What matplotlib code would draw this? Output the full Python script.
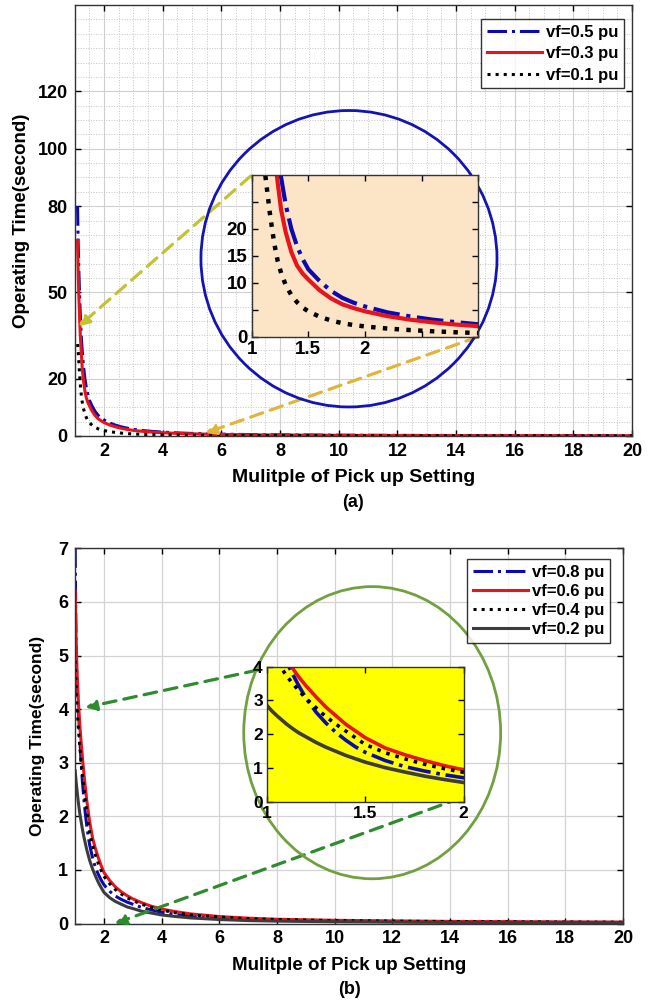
import numpy as np
import matplotlib
matplotlib.use('Agg')
import matplotlib.pyplot as plt
from matplotlib.patches import Ellipse
from matplotlib.ticker import MultipleLocator

plt.rcParams['font.family'] = ['Liberation Sans', 'DejaVu Sans']
plt.rcParams['font.weight'] = 'bold'

# ---- panel (a) data ----
x_a = [1.1, 1.12, 1.14, 1.16, 1.18, 1.2, 1.23, 1.26, 1.3, 1.35, 1.4, 1.45, 1.5,
       1.6, 1.7, 1.8, 1.9, 2.0, 2.2, 2.4, 2.6, 2.8, 3.0, 3.3, 3.6, 4.0, 4.5,
       5, 6, 7, 8, 10, 12, 14, 16, 18, 20]
vf05 = [80, 68, 59, 52, 46, 40.5, 34, 29.5, 24.5, 20.0, 16.8, 14.4, 12.5,
        10.3, 8.5, 7.2, 6.3, 5.6, 4.5, 3.75, 3.15, 2.7, 2.3, 1.92, 1.63, 1.33, 1.07,
        0.88, 0.63, 0.49, 0.39, 0.27, 0.2, 0.16, 0.13, 0.11, 0.095]
vf03 = [68, 58, 50, 44, 38.5, 34, 28.5, 23.5, 19.4, 15.7, 13.2, 11.7, 10.6,
        8.6, 7.1, 6.0, 5.3, 4.7, 3.8, 3.15, 2.65, 2.25, 1.95, 1.62, 1.38, 1.12, 0.9,
        0.74, 0.53, 0.41, 0.33, 0.23, 0.17, 0.13, 0.11, 0.09, 0.08]
vf01 = [32, 30, 26.5, 23, 20, 17.2, 14.0, 11.8, 9.6, 7.7, 6.4, 5.4, 4.7,
        3.7, 3.0, 2.5, 2.15, 1.9, 1.5, 1.22, 1.0, 0.82, 0.68, 0.55, 0.46, 0.38, 0.31,
        0.26, 0.19, 0.15, 0.12, 0.085, 0.065, 0.052, 0.043, 0.037, 0.032]
labels_a = ['vf=0.5 pu', 'vf=0.3 pu', 'vf=0.1 pu']

# ---- panel (b) data ----
x_b = [1.0, 1.01, 1.02, 1.03, 1.05, 1.07, 1.1, 1.13, 1.16, 1.2, 1.25, 1.3, 1.35,
       1.4, 1.45, 1.5, 1.6, 1.7, 1.8, 1.9, 2.0, 2.2, 2.4, 2.6, 2.8, 3.0, 3.3,
       3.6, 4.0, 4.5, 5, 6, 7, 8, 10, 12, 14, 16, 18, 20]
vf08 = [7.0, 6.3, 5.7, 5.25, 4.7, 4.4, 4.12, 3.78, 3.45, 3.05, 2.65, 2.33, 2.06,
        1.83, 1.63, 1.47, 1.23, 1.05, 0.92, 0.81, 0.72, 0.6, 0.51, 0.45, 0.4, 0.36, 0.3,
        0.26, 0.21, 0.17, 0.14, 0.1, 0.075, 0.06, 0.045, 0.037, 0.03, 0.026, 0.023, 0.02]
vf06 = [6.2, 5.9, 5.6, 5.35, 4.95, 4.62, 4.25, 3.95, 3.7, 3.42, 3.1, 2.8, 2.55,
        2.3, 2.1, 1.9, 1.6, 1.4, 1.23, 1.08, 0.95, 0.8, 0.68, 0.59, 0.52, 0.46, 0.39,
        0.33, 0.27, 0.22, 0.18, 0.13, 0.1, 0.08, 0.06, 0.05, 0.04, 0.035, 0.03, 0.027]
vf04 = [4.9, 4.72, 4.55, 4.42, 4.17, 3.98, 3.72, 3.5, 3.3, 3.05, 2.78, 2.52, 2.3,
        2.1, 1.9, 1.7, 1.46, 1.28, 1.12, 0.99, 0.88, 0.74, 0.63, 0.55, 0.48, 0.43, 0.36,
        0.31, 0.25, 0.2, 0.16, 0.12, 0.09, 0.075, 0.055, 0.045, 0.037, 0.032, 0.028, 0.025]
vf02 = [2.85, 2.78, 2.72, 2.66, 2.55, 2.45, 2.3, 2.17, 2.05, 1.92, 1.76, 1.62, 1.5,
        1.38, 1.28, 1.18, 1.02, 0.89, 0.77, 0.67, 0.58, 0.48, 0.41, 0.36, 0.31, 0.28, 0.23,
        0.2, 0.16, 0.13, 0.105, 0.075, 0.055, 0.045, 0.033, 0.026, 0.021, 0.018, 0.016, 0.014]
labels_b = ['vf=0.8 pu', 'vf=0.6 pu', 'vf=0.4 pu', 'vf=0.2 pu']

BLUE = '#0A0AB0'
RED = '#E8141B'
BLACK = '#000000'
GRAY = '#3C3C3C'

fig = plt.figure(figsize=(6.5, 10.02), dpi=100)


def style_axes(ax, size=13, pad=5):
    ax.tick_params(direction='in', top=True, right=True, labelsize=size, width=1,
                   length=4, pad=pad)
    for lab in ax.get_xticklabels() + ax.get_yticklabels():
        lab.set_fontweight('bold')
    for sp in ax.spines.values():
        sp.set_linewidth(1.0)
        sp.set_color('#333333')


def arrow(ax, tail, head, color):
    ax.annotate('', xy=head, xytext=tail, annotation_clip=False,
                arrowprops=dict(arrowstyle='-|>', linestyle=(0, (4, 2.5)), lw=2.3,
                                color=color, mutation_scale=16,
                                shrinkA=0, shrinkB=0))


def make_legend(ax, anchor, size, spacing):
    leg = ax.legend(loc='upper right', bbox_to_anchor=anchor, fontsize=size,
                    handlelength=3.3, frameon=True, fancybox=False,
                    edgecolor='black', borderaxespad=0, borderpad=0.35,
                    labelspacing=spacing, handletextpad=0.25)
    leg.get_frame().set_linewidth(1.0)
    for t in leg.get_texts():
        t.set_fontweight('bold')
    return leg


# ================= panel (a) =================
ax1 = fig.add_axes([0.1148, 0.5649, 0.8577, 0.430])
ax1.plot(x_a, vf05, color=BLUE, ls='-.', lw=2.2, label=labels_a[0])
ax1.plot(x_a, vf03, color=RED, ls='-', lw=2.2, label=labels_a[1])
ax1.plot(x_a, vf01, color=BLACK, ls=':', lw=2.2, label=labels_a[2])
ax1.set_xlim(1, 20)
ax1.set_ylim(0, 150)
ax1.set_xticks(range(2, 21, 2))
ax1.set_yticks([0, 20, 50, 80, 100, 120])
ax1.xaxis.set_minor_locator(MultipleLocator(0.5))
ax1.yaxis.set_minor_locator(MultipleLocator(5))
ax1.grid(True, which='major', color='#CFCFCF', lw=0.8)
ax1.grid(True, which='minor', color='#C4C4C4', ls=':', lw=0.7)
ax1.tick_params(which='minor', length=0)
style_axes(ax1)
ax1.set_xlabel('Mulitple of Pick up Setting', fontsize=14, fontweight='bold')
ax1.xaxis.label.set_va('center')
ax1.xaxis.set_label_coords(0.5, -0.0975)
ax1.set_ylabel('Operating Time(second)', fontsize=13.5, fontweight='bold')
ax1.yaxis.label.set_va('center')
ax1.yaxis.set_label_coords(-0.096, 0.5)
ax1.text(0.5, -0.155, '(a)', transform=ax1.transAxes, ha='center', va='center',
         fontsize=13, fontweight='bold')
make_legend(ax1, (0.9857, 0.9675), 12, 0.38)

ax1.add_patch(Ellipse((10.35, 61.7), 10.09, 103.2, fill=False, edgecolor='#1414B4',
                      lw=2.0, zorder=5))
arrow(ax1, (7.0, 90.5), (1.13, 38.1), '#C2C232')
arrow(ax1, (14.75, 34.5), (5.45, 1.0), '#E3B43A')

ins1 = fig.add_axes([0.3872, 0.664, 0.3486, 0.1614])
ins1.set_facecolor('#FCE4C6')
ins1.plot(x_a, vf05, color=BLUE, ls='-.', lw=3.0)
ins1.plot(x_a, vf03, color=RED, ls='-', lw=3.0)
ins1.plot(x_a, vf01, color=BLACK, ls=':', lw=3.2)
ins1.set_xlim(1, 3)
ins1.set_ylim(0, 30)
ins1.set_xticks([1, 1.5, 2, 2.5, 3])
ins1.set_xticklabels(['1', '1.5', '2', '', ''])
ins1.set_yticks([0, 5, 10, 15, 20, 25])
ins1.set_yticklabels(['0', '', '10', '15', '20', ''])
style_axes(ins1, size=13.5, pad=3)

# ================= panel (b) =================
ax2 = fig.add_axes([0.1157, 0.0783, 0.8428, 0.3745])
ax2.plot(x_b, vf08, color=BLUE, ls='-.', lw=2.2, label=labels_b[0])
ax2.plot(x_b, vf06, color=RED, ls='-', lw=2.2, label=labels_b[1])
ax2.plot(x_b, vf04, color=BLACK, ls=':', lw=2.2, label=labels_b[2])
ax2.plot(x_b, vf02, color=GRAY, ls='-', lw=2.2, label=labels_b[3])
ax2.set_xlim(1, 20)
ax2.set_ylim(0, 7)
ax2.set_xticks(range(2, 21, 2))
ax2.set_yticks(range(0, 8))
ax2.grid(True, which='major', color='#D3D3D3', lw=0.9)
style_axes(ax2)
ax2.set_xlabel('Mulitple of Pick up Setting', fontsize=13.5, fontweight='bold')
ax2.xaxis.label.set_va('center')
ax2.xaxis.set_label_coords(0.5, -0.111)
ax2.set_ylabel('Operating Time(second)', fontsize=12.5, fontweight='bold')
ax2.yaxis.label.set_va('center')
ax2.yaxis.set_label_coords(-0.0697, 0.5)
ax2.text(0.5, -0.177, '(b)', transform=ax2.transAxes, ha='center', va='center',
         fontsize=13, fontweight='bold')
make_legend(ax2, (0.976, 0.9715), 12, 0.25)

ax2.add_patch(Ellipse((11.3, 3.56), 8.91, 5.45, fill=False, edgecolor='#72A040',
                      lw=2.0, zorder=5))
arrow(ax2, (7.34, 4.73), (1.35, 4.03), '#2E8B2E')
arrow(ax2, (14.36, 2.34), (2.37, 0.0), '#2E8B2E')

ins2 = fig.add_axes([0.4108, 0.1994, 0.3026, 0.1354])
ins2.set_facecolor('#FFFF00')
ins2.plot(x_b, vf08, color=BLUE, ls='-.', lw=2.6)
ins2.plot(x_b, vf06, color=RED, ls='-', lw=2.6)
ins2.plot(x_b, vf04, color=BLACK, ls=':', lw=2.6)
ins2.plot(x_b, vf02, color=GRAY, ls='-', lw=2.6)
ins2.set_xlim(1, 2)
ins2.set_ylim(0, 4)
ins2.set_xticks([1, 1.5, 2])
ins2.set_xticklabels(['1', '1.5', '2'])
ins2.set_yticks(range(0, 5))
style_axes(ins2, size=12.5, pad=3)

fig.savefig('out.png', dpi=100)
